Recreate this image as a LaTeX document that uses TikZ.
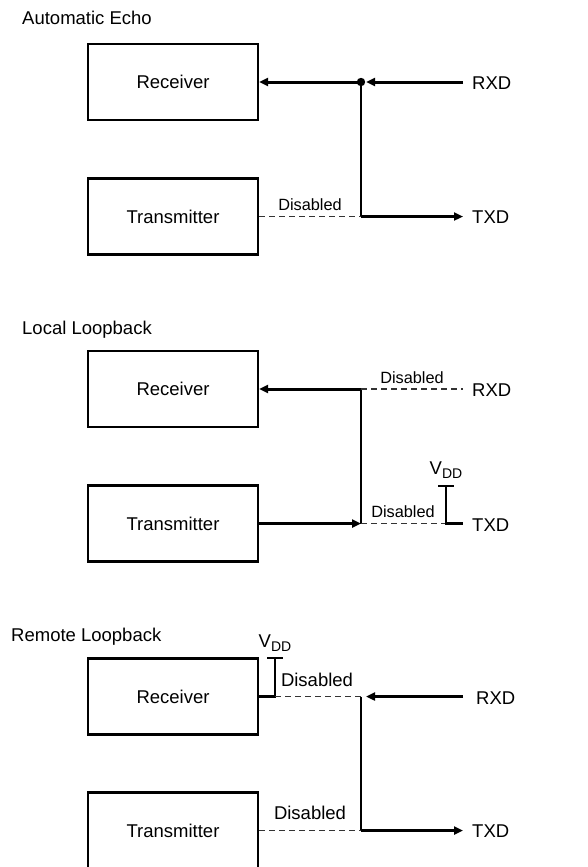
\documentclass[tikz,border=0pt]{standalone}
\usepackage{fontspec}
\setmainfont{Liberation Sans}
\usetikzlibrary{arrows.meta}
\newcommand{\vdd}{V\raisebox{-0.35ex}{\fontsize{14}{16}\selectfont DD}}
\begin{document}
\begin{tikzpicture}[x=1pt,y=-1pt,
  box/.style={draw,line width=2.2pt,minimum width=170pt,minimum height=76pt,inner sep=0pt,font=\fontsize{18.5}{22}\selectfont},
  lbl/.style={inner sep=0pt,anchor=west,font=\fontsize{18.5}{22}\selectfont},
  ctr/.style={inner sep=0pt,font=\fontsize{18.5}{22}\selectfont},
  dis/.style={inner sep=0pt,font=\fontsize{16.3}{20}\selectfont},
  heavy/.style={line width=3pt},
  wire/.style={line width=2.2pt},
  dashline/.style={line width=1.2pt,dash pattern=on 6pt off 4pt,draw=black!80},
  tip/.style={-{Triangle[length=9pt,width=8pt]}},
]
\useasboundingbox (0,0) rectangle (588,867);
\clip (0,0) rectangle (588,867);

% ---------- Automatic Echo ----------
\node[lbl] (t1) at (22,18) {Automatic Echo};
\node[box] (r1) at (173,82) {Receiver};
\node[box] (x1) at (173,216.5) {Transmitter};
\node[lbl] (rxd1) at (472,83) {RXD};
\node[lbl] (txd1) at (472,217) {TXD};
\coordinate (j1) at (361,82);
\coordinate (j1r) at (366,82);
\coordinate (k1) at (361,216.5);
\coordinate (re1) at (463,82);
\coordinate (te1) at (463,216.5);
\draw[heavy,tip] (j1) -- (r1.east);
\draw[heavy,tip] (re1) -- (j1r);
\fill (j1) circle (4.2pt);
\draw[wire] (j1) -- (k1);
\draw[heavy,tip] (k1) -- (te1);
\draw[dashline] (x1.east) -- (k1);
\node[dis] (d1) at (310,205) {Disabled};

% ---------- Local Loopback ----------
\node[lbl] (t2) at (22,330) {Local Loopback};
\node[box] (r2) at (173,389) {Receiver};
\node[box] (x2) at (173,523.5) {Transmitter};
\node[lbl] (rxd2) at (472,390) {RXD};
\node[lbl] (txd2) at (472,525) {TXD};
\coordinate (j2) at (361,389);
\coordinate (k2) at (361,523.5);
\coordinate (re2) at (463,389);
\coordinate (v2b) at (446,523.5);
\coordinate (v2t) at (446,486);
\coordinate (v2l) at (438,486);
\coordinate (v2r) at (454,486);
\coordinate (te2) at (463,523.5);
\draw[heavy,tip] (j2) -- (r2.east);
\draw[wire] (j2) -- (k2);
\draw[heavy,tip] (x2.east) -- (k2);
\draw[dashline] (j2) -- (re2);
\node[dis] (d2a) at (412,378) {Disabled};
\draw[dashline] (k2) -- (v2b);
\node[dis] (d2b) at (403,512) {Disabled};
\draw[wire] (v2l) -- (v2r);
\draw[wire] (v2t) -- (v2b) -- (te2);
\node[ctr] (vdd2) at (446,470) {\vdd};

% ---------- Remote Loopback ----------
\node[lbl] (t3) at (11,637) {Remote Loopback};
\node[box] (r3) at (173,696.5) {Receiver};
\node[box] (x3) at (173,830.5) {Transmitter};
\node[lbl] (rxd3) at (476,698) {RXD};
\node[lbl] (txd3) at (472,831) {TXD};
\node[ctr] (vdd3) at (275,643) {\vdd};
\coordinate (v3l) at (267,658);
\coordinate (v3r) at (283,658);
\coordinate (v3t) at (275,658);
\coordinate (v3b) at (275,696.5);
\coordinate (j3) at (361,696.5);
\coordinate (j3r) at (366,696.5);
\coordinate (k3) at (361,830.5);
\coordinate (re3) at (463,696.5);
\coordinate (te3) at (463,830.5);
\draw[wire] (v3l) -- (v3r);
\draw[wire] (v3t) -- (v3b) -- (r3.east);
\draw[dashline] (v3b) -- (j3);
\node[ctr] (d3a) at (317,680) {Disabled};
\draw[heavy,tip] (re3) -- (j3r);
\draw[wire] (j3) -- (k3);
\draw[heavy,tip] (k3) -- (te3);
\draw[dashline] (x3.east) -- (k3);
\node[ctr] (d3b) at (310,813) {Disabled};
\end{tikzpicture}
\end{document}
